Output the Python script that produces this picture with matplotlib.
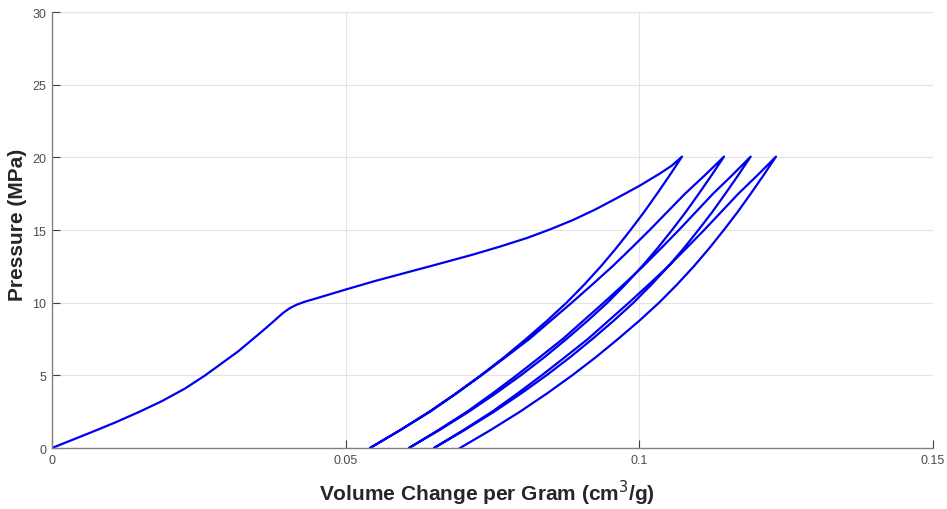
import matplotlib
matplotlib.use('Agg')
import matplotlib.pyplot as plt

plt.rcParams['font.family'] = ['Liberation Sans', 'DejaVu Sans']

#first loading
load_v = [0.0, 0.00341, 0.00681, 0.01073, 0.01498, 0.01873, 0.02264, 0.02605, 0.02946, 0.03167,
          0.03371, 0.03575, 0.03780, 0.03933, 0.04052, 0.04171, 0.04308, 0.04512, 0.04733, 0.04989,
          0.05499, 0.06044, 0.06606, 0.07168, 0.07628, 0.08087, 0.08479, 0.08871, 0.09245,
          0.09620, 0.10011, 0.10352, 0.10556, 0.10727]
load_p = [0.0, 0.55, 1.10, 1.75, 2.51, 3.23, 4.09, 4.99, 5.99, 6.64,
          7.33, 8.02, 8.74, 9.29, 9.63, 9.87, 10.07, 10.31, 10.58, 10.89,
          11.49, 12.08, 12.69, 13.31, 13.86, 14.45, 15.04, 15.69, 16.40,
          17.20, 18.06, 18.89, 19.44, 20.05]

#pressure levels used for the cycles (bottom to top)
cyc_p = [0.0, 1.25, 2.5, 3.75, 5.0, 6.25, 7.5, 8.75, 10.0, 11.25, 12.5, 13.75,
         15.0, 16.25, 17.5, 18.75, 20.05]

#volume of each branch at those levels, bottom to top
unload1_v = [0.05414, 0.05935, 0.06424, 0.06875, 0.07300, 0.07699, 0.08071, 0.08427, 0.08761,
             0.09064, 0.09346, 0.09606, 0.09850, 0.10084, 0.10302, 0.10515, 0.10727]
reload1_v = [0.05414, 0.05938, 0.06439, 0.06885, 0.07313, 0.07723, 0.08127, 0.08488, 0.08850,
             0.09200, 0.09543, 0.09863, 0.10176, 0.10478, 0.10779, 0.11111, 0.11442]
unload2_v = [0.06078, 0.06604, 0.07097, 0.07553, 0.07982, 0.08385, 0.08760, 0.09119, 0.09457,
             0.09763, 0.10047, 0.10310, 0.10557, 0.10793, 0.11013, 0.11227, 0.11442]
reload2_v = [0.06078, 0.06584, 0.07067, 0.07498, 0.07911, 0.08306, 0.08696, 0.09045, 0.09394,
             0.09732, 0.10063, 0.10372, 0.10674, 0.10965, 0.11256, 0.11576, 0.11896]
unload3_v = [0.06504, 0.07032, 0.07529, 0.07987, 0.08418, 0.08823, 0.09200, 0.09561, 0.09901,
             0.10208, 0.10494, 0.10758, 0.11006, 0.11244, 0.11465, 0.11680, 0.11896]
reload3_v = [0.06504, 0.07011, 0.07494, 0.07925, 0.08338, 0.08734, 0.09124, 0.09474, 0.09823,
             0.10161, 0.10493, 0.10801, 0.11104, 0.11395, 0.11687, 0.12007, 0.12327]
unload4_v = [0.06947, 0.07474, 0.07969, 0.08427, 0.08857, 0.09260, 0.09637, 0.09998, 0.10336,
             0.10643, 0.10928, 0.11192, 0.11439, 0.11676, 0.11897, 0.12112, 0.12327]

x_ticks = [0, 0.05, 0.1, 0.15]
x_labels = ['0', '0.05', '0.1', '0.15']
y_ticks = [0, 5, 10, 15, 20, 25, 30]

#join everything into one continuous trace
v = list(load_v)
p = list(load_p)
for br, down in [(unload1_v, True), (reload1_v, False), (unload2_v, True), (reload2_v, False),
                 (unload3_v, True), (reload3_v, False), (unload4_v, True)]:
    if down:
        v += br[::-1][1:]
        p += cyc_p[::-1][1:]
    else:
        v += br[1:]
        p += cyc_p[1:]

fig = plt.figure(figsize=(9.47, 5.10), dpi=100)
ax = fig.add_axes([0.0549, 0.1196, 0.9303, 0.8549])
ax.plot(v, p, color='#0000f0', lw=1.6, solid_joinstyle='round')

ax.set_xlim(0, 0.15)
ax.set_ylim(0, 30)
ax.set_xticks(x_ticks)
ax.set_xticklabels(x_labels)
ax.set_yticks(y_ticks)
ax.grid(True, color='#e3e3e3', lw=0.8)
ax.set_axisbelow(True)
for s in ['top', 'right']:
    ax.spines[s].set_visible(False)
for s in ['left', 'bottom']:
    ax.spines[s].set_color('#808080')
    ax.spines[s].set_linewidth(1.0)
ax.tick_params(direction='in', length=5.8, width=0.8, color='#404040',
               labelsize=9, labelcolor='#4d4d4d', pad=4)

ax.set_xlabel('Volume Change per Gram (cm$^3$/g)', fontsize=15, fontweight='bold',
              color='#262626', va='center')
ax.set_ylabel('Pressure (MPa)', fontsize=15, fontweight='bold', color='#262626', va='center')
ax.xaxis.set_label_coords(0.494, -0.101)
ax.yaxis.set_label_coords(-0.0397, 0.514)

plt.savefig('out.png', dpi=100)
plt.close()
